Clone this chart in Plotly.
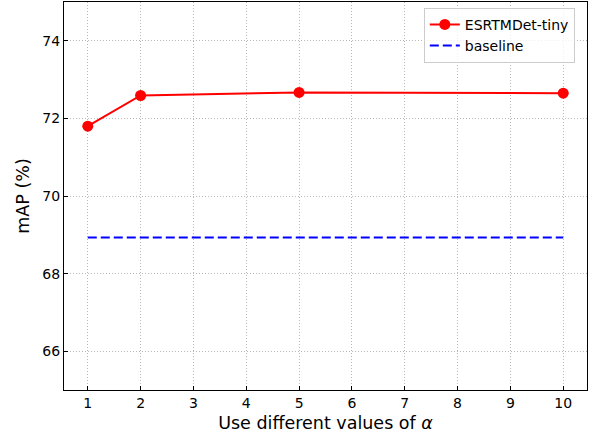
import plotly.graph_objects as go

alpha = [1, 2, 5, 10]
esrtm = [71.8, 72.59, 72.67, 72.65]
baseline_x = [1, 10]
baseline_y = [68.93, 68.93]

fig = go.Figure()
fig.add_trace(go.Scatter(x=alpha, y=esrtm, mode="lines+markers", name="ESRTMDet-tiny",
                         line=dict(color="red", width=2), marker=dict(color="red", size=11)))
fig.add_trace(go.Scatter(x=baseline_x, y=baseline_y, mode="lines", name="baseline",
                         line=dict(color="blue", width=2, dash="9px,4px")))

axis_common = dict(showline=True, linecolor="black", linewidth=1, mirror=True,
                   ticks="inside", ticklen=4, tickcolor="black",
                   showgrid=True, gridcolor="#b8b8b8", griddash="1px,2px", gridwidth=1,
                   zeroline=False, automargin=False,
                   tickfont=dict(size=14, color="black"))

fig.update_layout(
    width=597, height=437,
    margin=dict(l=64, r=10, t=2, b=47),
    paper_bgcolor="white", plot_bgcolor="white",
    font=dict(family="DejaVu Sans", color="black"),
    xaxis=dict(range=[0.55, 10.45], tickvals=list(range(1, 11)),
               title=dict(text="Use different values of <i>α</i>", font=dict(size=17.5), standoff=6),
               **axis_common),
    yaxis=dict(range=[65, 75], tickvals=[66, 68, 70, 72, 74],
               title=dict(text="mAP (%)", font=dict(size=17.5), standoff=8),
               **axis_common),
    legend=dict(x=0.688, y=0.985, xanchor="left", yanchor="top",
                bgcolor="rgba(255,255,255,0.8)", bordercolor="#cccccc", borderwidth=1,
                font=dict(size=14)),
    showlegend=True,
)

fig.write_html("out.html", config={"displayModeBar": False},
               post_script="document.body.style.margin='0';")
